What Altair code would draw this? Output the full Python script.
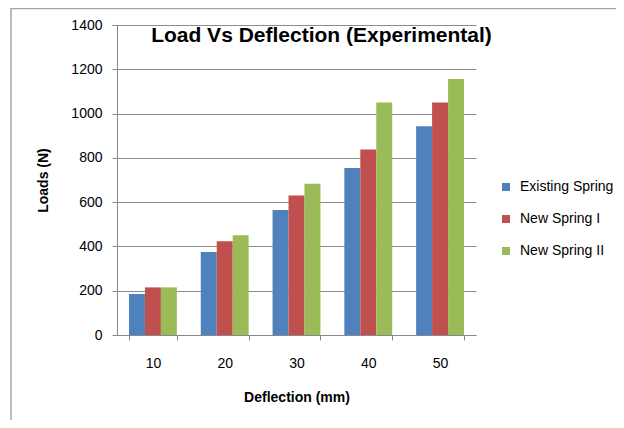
import altair as alt
import pandas as pd

deflection = ["10", "20", "30", "40", "50"]
series = ["Existing Spring", "New Spring I", "New Spring II"]
existing = [185, 375, 564, 754, 943]
new1 = [215, 423, 630, 838, 1050]
new2 = [215, 451, 683, 1050, 1156]
colors = ["#4F81BD", "#C0504D", "#9BBB59"]
y_ticks = [0, 200, 400, 600, 800, 1000, 1200, 1400]

rows = []
for name, vals in zip(series, [existing, new1, new2]):
    for d, v in zip(deflection, vals):
        rows.append({"Deflection": d, "Series": name, "Load": v})
df = pd.DataFrame(rows)

FONT = "Liberation Sans"

bars = alt.Chart(df).mark_bar(stroke=None).encode(
    x=alt.X("Deflection:N", sort=deflection,
            scale=alt.Scale(paddingInner=0.333, paddingOuter=0.167),
            axis=alt.Axis(title="Deflection (mm)", labelAngle=0, tickBand="extent",
                          domainColor="#888888", tickColor="#888888", tickSize=5,
                          labelPadding=16, titlePadding=20, grid=False)),
    xOffset=alt.XOffset("Series:N", sort=series,
                        scale=alt.Scale(paddingInner=0, paddingOuter=0)),
    y=alt.Y("Load:Q", scale=alt.Scale(domain=[0, 1400], nice=False),
            axis=alt.Axis(title="Loads (N)", values=y_ticks, format="d", grid=True,
                          gridColor="#8c8c8c", domainColor="#888888",
                          tickColor="#888888", tickSize=5, labelPadding=10,
                          titlePadding=20)),
    color=alt.Color("Series:N", sort=series,
                    scale=alt.Scale(domain=series, range=colors),
                    legend=alt.Legend(title=None, orient="none", legendX=382,
                                      legendY=155, symbolType="square",
                                      symbolSize=64, symbolStrokeWidth=0,
                                      labelFontSize=14, labelOffset=7,
                                      rowPadding=18, labelColor="#000000")),
)

border = alt.Chart(alt.Data(values=[{}])).mark_rect(
    fill=None, stroke="#a6a6a6", strokeWidth=1.5, clip=False
).encode(
    x=alt.value(-106), x2=alt.value(700), y=alt.value(-16.5), y2=alt.value(600)
)

chart = alt.layer(border, bars).properties(
    width=359, height=310,
    autosize=alt.AutoSizeParams(type="none"),
    padding={"left": 109, "top": 17, "right": 140, "bottom": 85},
    title=alt.Title("Load Vs Deflection (Experimental)", anchor="middle",
                    frame="group", dx=25, offset=-38, fontSize=21,
                    fontWeight="bold", font=FONT, color="#000000"),
).configure_view(stroke=None).configure_axis(
    labelFont=FONT, titleFont=FONT, labelFontSize=14, titleFontSize=14,
    titleFontWeight="bold", labelColor="#000000", titleColor="#000000",
).configure_legend(labelFont=FONT)

chart.save("out.html", embed_options={"renderer": "svg", "actions": False})
